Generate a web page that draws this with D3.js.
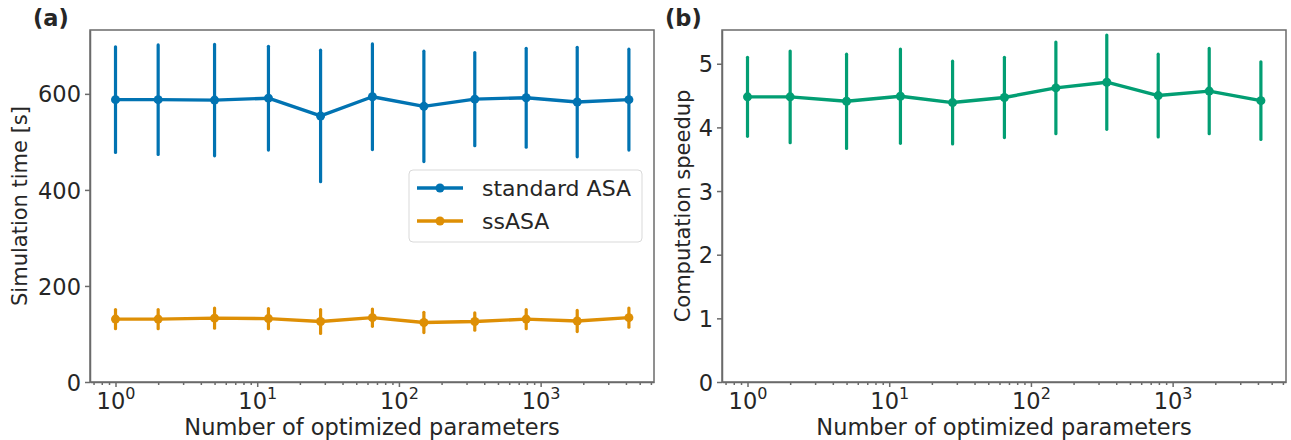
<!DOCTYPE html>
<html>
<head>
<meta charset="utf-8">
<script src="https://d3js.org/d3.v7.min.js"></script>
<style>
  body { margin: 0; background: #fff; }
  text { font-family: "DejaVu Sans", sans-serif; fill: #262626; }
  .axis path, .axis line { stroke: #6b6b6b; stroke-width: 1.5; }
  .axis text { font-size: 22.5px; fill: #262626; }
</style>
</head>
<body>
<div id="chart"></div>
<script>
"use strict"

// numero de parametros otimizados (eixo x, log)
var nParams = [1, 2, 5, 12, 28, 65, 150, 343, 791, 1812, 4196];

// (a) tempo de simulacao [s]: media e desvio
var stdMean = [588, 588, 587, 591, 554, 594, 574, 589, 592, 583, 588];
var stdErr  = [110, 114, 116, 108, 137, 110, 115, 97, 103, 114, 105];
var ssMean  = [131, 131, 133, 132, 126, 134, 124, 126, 131, 127, 134];
var ssErr   = [20, 20, 21, 21, 25, 18, 21, 18, 20, 22, 20];

// (b) speedup
var spMean = [4.48, 4.48, 4.41, 4.49, 4.39, 4.47, 4.62, 4.71, 4.50, 4.57, 4.42];
var spErr  = [0.62, 0.72, 0.74, 0.74, 0.65, 0.63, 0.72, 0.74, 0.65, 0.67, 0.61];

var xMajor = [1, 10, 100, 1000];
var yTicksA = [0, 200, 400, 600];
var yTicksB = [0, 1, 2, 3, 4, 5];
var legendNames = ["standard ASA", "ssASA"];

var cBlue = "#0173b2", cOrange = "#de8f05", cGreen = "#029e73";

var W = 1291, H = 440;
var svg = d3.select("#chart").append("svg").attr("width", W).attr("height", H);

function painel(left, right, yMax, yTicks, yLabel, labelOff, tag, series) {
  var top = 30, bottom = 382;
  var x = d3.scaleLog().domain([Math.pow(10, -0.18), Math.pow(10, 3.80)]).range([left, right]);
  var y = d3.scaleLinear().domain([0, yMax]).range([bottom, top]);

  // minor ticks
  var minor = [];
  for (var k = -1; k <= 3; k++) for (var m = 2; m <= 9; m++) {
    var v = m * Math.pow(10, k);
    if (v >= x.domain()[0] && v <= x.domain()[1]) minor.push(v);
  }
  svg.append("g").attr("class", "axis").attr("transform", "translate(0," + bottom + ")")
    .call(d3.axisBottom(x).tickValues(minor).tickSize(3).tickFormat(""))
    .call(g => g.select(".domain").remove());

  var gx = svg.append("g").attr("class", "axis").attr("transform", "translate(0," + bottom + ")")
    .call(d3.axisBottom(x).tickValues(xMajor).tickSize(5).tickSizeOuter(0).tickFormat(""));
  gx.selectAll(".tick").append("text")
    .attr("y", 27).attr("text-anchor", "middle")
    .each(function(d) {
      var t = d3.select(this);
      t.append("tspan").text("10");
      t.append("tspan").attr("dy", -10).attr("font-size", "16px").text(Math.round(Math.log10(d)));
    });

  svg.append("g").attr("class", "axis").attr("transform", "translate(" + left + ",0)")
    .call(d3.axisLeft(y).tickValues(yTicks).tickSize(5).tickSizeOuter(0).tickPadding(4).tickFormat(d3.format("d")))
    .selectAll("text").attr("dy", "0.36em");

  // caixa
  svg.append("rect").attr("x", left).attr("y", top).attr("width", right - left).attr("height", bottom - top)
    .attr("fill", "none").attr("stroke", "#6b6b6b").attr("stroke-width", 1.5);

  series.forEach(function(s) {
    svg.append("g").selectAll("line").data(nParams).enter().append("line")
      .attr("x1", d => x(d)).attr("x2", d => x(d))
      .attr("y1", (d, i) => y(s.mean[i] - s.err[i]))
      .attr("y2", (d, i) => y(s.mean[i] + s.err[i]))
      .attr("stroke", s.color).attr("stroke-width", 3.2).attr("stroke-linecap", "round");
    svg.append("path").datum(nParams)
      .attr("d", d3.line().x(d => x(d)).y((d, i) => y(s.mean[i])))
      .attr("fill", "none").attr("stroke", s.color).attr("stroke-width", 3.4).attr("stroke-linejoin", "round");
    svg.append("g").selectAll("circle").data(nParams).enter().append("circle")
      .attr("cx", d => x(d)).attr("cy", (d, i) => y(s.mean[i])).attr("r", 4.5)
      .attr("fill", s.color);
  });

  svg.append("text").attr("x", (left + right) / 2).attr("y", 435).attr("text-anchor", "middle")
    .attr("font-size", "22.5px").text("Number of optimized parameters");
  svg.append("text").attr("transform", "translate(" + (left - labelOff) + "," + ((top + bottom) / 2) + ") rotate(-90)")
    .attr("text-anchor", "middle").attr("font-size", "21px").text(yLabel);
  svg.append("text").attr("x", left - 57).attr("y", 26).attr("font-size", "22.5px")
    .attr("font-weight", "bold").text(tag);
  return { x: x, y: y };
}

painel(90, 654, 733, yTicksA, "Simulation time [s]", 63, "(a)", [
  { mean: stdMean, err: stdErr, color: cBlue },
  { mean: ssMean, err: ssErr, color: cOrange }
]);
painel(722, 1286, 5.53, yTicksB, "Computation speedup", 32, "(b)", [
  { mean: spMean, err: spErr, color: cGreen }
]);

// legenda
var leg = svg.append("g").attr("transform", "translate(409,170)");
leg.append("rect").attr("width", 233).attr("height", 72).attr("rx", 4)
  .attr("fill", "#fff").attr("fill-opacity", 0.8).attr("stroke", "#d9d9d9");
[cBlue, cOrange].forEach(function(c, i) {
  var yy = 18 + i * 33;
  leg.append("line").attr("x1", 8).attr("x2", 54).attr("y1", yy).attr("y2", yy)
    .attr("stroke", c).attr("stroke-width", 3.4);
  leg.append("circle").attr("cx", 31).attr("cy", yy).attr("r", 4.5).attr("fill", c);
  leg.append("text").attr("x", 73).attr("y", yy).attr("dy", "0.36em")
    .attr("font-size", "22px").text(legendNames[i]);
});
</script>
</body>
</html>
